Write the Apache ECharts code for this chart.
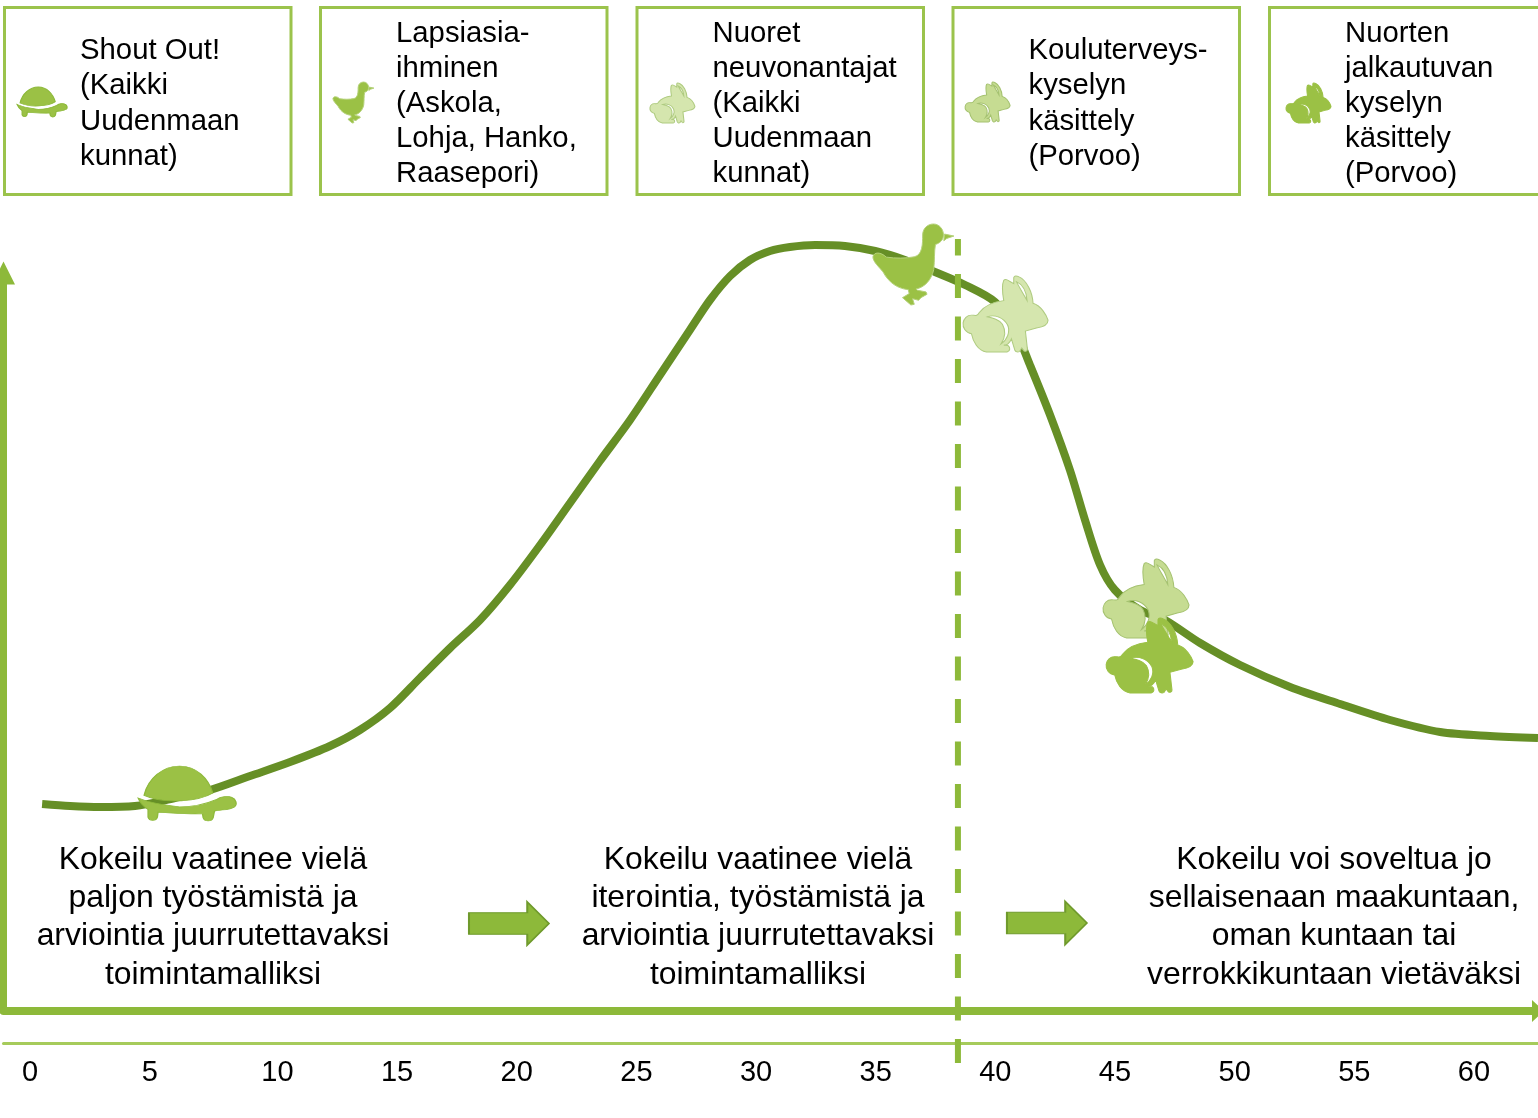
<!DOCTYPE html>
<html>
<head>
<meta charset="utf-8">
<title>Kokeilut</title>
<script src="https://cdn.jsdelivr.net/npm/echarts@6/dist/echarts.min.js"></script>
<style>
html,body{margin:0;padding:0;background:#fff;}
#main{width:1538px;height:1118px;}
</style>
</head>
<body>
<div id="main"></div>
<script>
// curve
var curveX = [0.84,2.01,3.26,4.72,6.39,7.86,9.53,11.20,12.87,14.12,15.38,16.63,17.89,19.14,20.39,21.65,22.90,24.15,25.41,26.66,27.91,28.75,29.59,30.42,31.26,32.09,33.14,34.39,35.65,36.90,38.15,39.41,40.66,41.50,42.12,42.96,43.79,44.42,45.05,45.67,46.72,47.76,49.23,50.90,52.99,55.08,57.17,59.26,61.34,63.35];
var curveY = [20.7,20.5,20.4,20.5,21.3,22.1,23.5,24.9,26.5,28.1,30.3,33.3,36.3,39.1,42.6,46.6,50.8,55.0,59.1,63.6,68.1,71.1,73.5,75.1,76.0,76.4,76.6,76.5,76.0,75.1,73.9,72.6,70.9,68.1,64.6,59.6,54.1,49.1,44.6,42.1,40.1,39.1,36.8,34.6,32.4,30.7,29.1,27.9,27.5,27.3];
var tickValues = [0,5,10,15,20,25,30,35,40,45,50,55,60];
var phaseLine = 39.11;

// animals on the curve
var animalNames = ['turtle','duck','rabbitA','rabbitB','rabbitC'];
var animalX = [6.9,37.25,41.1,46.97,47.12];
var animalY = [21.75,74.65,69.7,41.25,35.55];

// the same animals, in the boxes
var iconNames = ['turtle','duck','rabbitA','rabbitB','rabbitC'];
var iconX = [0.84,13.85,27.18,40.35,53.76];
var iconY = [90.9,90.85,90.8,90.9,90.8];

var boxLabels = [
    'Shout Out!\n(Kaikki\nUudenmaan\nkunnat)',
    'Lapsiasia-\nihminen\n(Askola,\nLohja, Hanko,\nRaasepori)',
    'Nuoret\nneuvonantajat\n(Kaikki\nUudenmaan\nkunnat)',
    'Kouluterveys-\nkyselyn\nkäsittely\n(Porvoo)',
    'Nuorten\njalkautuvan\nkyselyn\nkäsittely\n(Porvoo)'
];
var notes = [
    'Kokeilu vaatinee vielä\npaljon työstämistä ja\narviointia juurrutettavaksi\ntoimintamalliksi',
    'Kokeilu vaatinee vielä\niterointia, työstämistä ja\narviointia juurrutettavaksi\ntoimintamalliksi',
    'Kokeilu voi soveltua jo\nsellaisenaan maakuntaan,\noman kuntaan tai\nverrokkikuntaan vietäväksi'
];
var arrowX = [20.35,42.83];
var arrowY = [8.75,8.8];

var FONT = '"Liberation Sans", Arial, sans-serif';
var GREEN = '#8DB93A';
var CURVE = '#668F26';

// icon outlines
var TURTLE = 'path://M68 137C80 85 125 48 175 48C225 48 262 85 275 130C235 155 130 165 68 137ZM50 145C100 165 130 165 175 172C215 172 250 165 285 150C300 140 320 138 332 143C345 148 350 165 340 172C325 182 300 180 280 185L276 205C272 218 250 218 246 205L244 193C200 195 150 190 110 188L108 203C104 216 84 216 80 203L80 180C65 170 55 158 50 145Z';
var DUCK = 'path://M190 75C190 55 205 42 222 42C240 42 252 58 252 75C252 90 240 100 228 103C224 125 226 150 223 178C216 210 195 232 170 236L175 240L200 245L203 252L185 262L178 270L160 265L165 282L155 284L130 262L150 250L147 238C120 236 90 220 72 185C60 170 42 155 42 140C45 125 65 125 82 141C110 145 140 145 165 140C190 135 190 100 190 75ZM255 72L283 78L262 85L253 92Z';
var RABBIT = 'path://M335 315C345 315 352 320 358 308C375 285 405 275 432 272C428 250 426 225 432 212C436 208 442 210 448 214L462 222L462 204C464 198 470 198 478 202C500 212 518 245 520 280C545 288 560 315 565 330C565 345 550 350 530 353L497 362L503 415C503 422 496 424 492 420L486 412L480 422C474 426 468 424 465 418L455 385C450 398 440 405 432 404L445 405C452 410 452 422 442 424L380 424C355 420 340 395 335 370C318 368 308 352 310 338C312 325 322 315 335 315ZM382 320C400 324 418 328 428 342C438 360 436 382 424 400C442 388 452 365 444 345C432 322 405 312 382 320ZM470 216C478 232 490 250 502 272C500 245 490 225 470 216Z';
var BLOCK = 'path://M0 11L59 11L59 0L81 22L59 44L59 33L0 33Z';

var animalStyle = {
    turtle: {symbol: TURTLE, size: [98,55], icon: [50,30], fill: '#9BC145', stroke: '#8DB93A'},
    duck: {symbol: DUCK, size: [81,81], icon: [41,41], fill: '#9BC145', stroke: '#B5D27A'},
    rabbitA: {symbol: RABBIT, size: [85,76], icon: [45,40], fill: '#D5E6AE', stroke: '#AFCB80'},
    rabbitB: {symbol: RABBIT, size: [86,79], icon: [45,40], fill: '#C6DC92', stroke: '#A5C270'},
    rabbitC: {symbol: RABBIT, size: [87,75], icon: [45,40], fill: '#9BC145', stroke: '#9BC145'}
};

function animalItems(names, xs, ys, sizeKey) {
    return names.map(function (name, i) {
        var s = animalStyle[name];
        return {
            name: name,
            value: [xs[i], ys[i]],
            symbol: s.symbol,
            symbolSize: s[sizeKey],
            itemStyle: {color: s.fill, borderColor: s.stroke, borderWidth: 1, opacity: 1}
        };
    });
}

var curveData = curveX.map(function (x, i) { return [x, curveY[i]]; });

// boxes across the top
var boxLeft = [4.5,320.5,637,953,1269.5];
var graphics = [];
boxLabels.forEach(function (label, i) {
    graphics.push({
        type: 'rect',
        shape: {x: boxLeft[i], y: 7.5, width: 286.5, height: 187},
        style: {fill: '#fff', stroke: '#9BC34C', lineWidth: 3},
        z: 1
    });
    graphics.push({
        type: 'text',
        x: boxLeft[i] + 75.5,
        y: 104,
        z: 6,
        style: {text: label, font: '29.3px ' + FONT, lineHeight: 35.2, fill: '#000', textAlign: 'left', textVerticalAlign: 'middle'}
    });
});
[213,758,1334].forEach(function (cx, i) {
    graphics.push({
        type: 'text',
        x: cx,
        y: 917.5,
        z: 6,
        style: {text: notes[i], font: '31.9px ' + FONT, lineHeight: 38.3, fill: '#000', textAlign: 'center', textVerticalAlign: 'middle'}
    });
});

var xMin = -0.773, xMax = 63.35;

var option = {
    animation: false,
    backgroundColor: '#fff',
    grid: {left: 3.5, right: 0, top: 273, bottom: 107},
    xAxis: [
        {
            type: 'value', min: xMin, max: xMax, position: 'bottom',
            splitLine: {show: false}, axisTick: {show: false}, axisLabel: {show: false},
            axisLine: {show: true, onZero: false, symbol: ['none','triangle'], symbolSize: [22,12], lineStyle: {color: GREEN, width: 8}}
        },
        {
            type: 'value', min: xMin, max: xMax, position: 'bottom', offset: 32,
            splitLine: {show: false}, axisTick: {show: false},
            axisLine: {show: true, onZero: false, lineStyle: {color: '#A6CB5B', width: 3}},
            axisLabel: {
                customValues: tickValues, align: 'left', margin: 15,
                color: '#000', fontSize: 29, fontFamily: FONT,
                formatter: function (v) { return v; }
            }
        }
    ],
    yAxis: {
        type: 'value', min: 0, max: 73.8,
        splitLine: {show: false}, axisTick: {show: false}, axisLabel: {show: false},
        axisLine: {show: true, onZero: false, symbol: ['none','triangle'], symbolSize: [23,23], lineStyle: {color: GREEN, width: 7}}
    },
    graphic: graphics,
    series: [
        {
            name: 'curve', type: 'line', data: curveData, smooth: 0.3, showSymbol: false,
            clip: false, z: 2, lineStyle: {color: CURVE, width: 8}
        },
        {
            name: 'phase', type: 'line', data: [[phaseLine,-5.2],[phaseLine,77.2]], showSymbol: false,
            clip: false, z: 3, lineStyle: {color: GREEN, width: 6, type: [24,18.5]}
        },
        {
            name: 'animals', type: 'scatter', clip: false, z: 4,
            data: animalItems(animalNames, animalX, animalY, 'size')
        },
        {
            name: 'icons', type: 'scatter', clip: false, z: 4,
            data: animalItems(iconNames, iconX, iconY, 'icon')
        },
        {
            name: 'arrows', type: 'scatter', symbol: BLOCK, symbolSize: [80,43], clip: false, z: 4,
            data: arrowX.map(function (x, i) { return [x, arrowY[i]]; }),
            itemStyle: {color: GREEN, borderColor: '#6F9A2C', borderWidth: 1.5, opacity: 1}
        }
    ]
};

var chart = echarts.init(document.getElementById('main'));
chart.setOption(option);
window.addEventListener('resize', function () { chart.resize(); });
</script>
</body>
</html>
